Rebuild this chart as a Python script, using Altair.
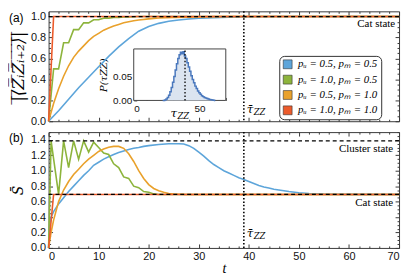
import altair as alt
import pandas as pd

SERIES = ["pᵤ = 0.5, pₘ = 0.5", "pᵤ = 1.0, pₘ = 0.5",
          "pᵤ = 0.5, pₘ = 1.0", "pᵤ = 1.0, pₘ = 1.0"]
COLORS = ["#5DA5DA", "#8DB43C", "#E9A12B", "#EC5B2B"]

# ---- panel (a): |<Z_i Z_{i+2}>| vs t
a_blue_t = [0, 2, 4, 6, 8, 10, 12, 14, 16, 18, 20, 22, 24, 26, 28, 30, 33, 36, 40, 45, 70]
a_blue_v = [0, 0.10, 0.21, 0.32, 0.42, 0.52, 0.62, 0.71, 0.79, 0.86, 0.905, 0.935, 0.955,
            0.968, 0.977, 0.984, 0.99, 0.995, 0.998, 1.0, 1.0]
a_green_t = [0, 1, 2, 3, 4, 5, 6, 7, 8, 9, 10, 11, 12, 13, 14, 15, 16, 17, 18, 70]
a_green_v = [0, 0.5, 0.5, 0.75, 0.75, 0.875, 0.875, 0.94, 0.94, 0.97, 0.97, 0.985, 0.985,
             0.992, 0.992, 0.996, 0.996, 0.998, 1.0, 1.0]
a_orange_t = [0, 1, 2, 3, 4, 5, 6, 7, 8, 9, 10, 11, 12, 13, 14, 15, 16, 17, 18, 20, 22, 25, 30, 35, 70]
a_orange_v = [0, 0.17, 0.31, 0.43, 0.53, 0.61, 0.67, 0.72, 0.77, 0.81, 0.84, 0.87, 0.89, 0.91,
              0.925, 0.94, 0.95, 0.96, 0.968, 0.978, 0.986, 0.992, 0.997, 1.0, 1.0]
a_red_t = [0, 1, 70]
a_red_v = [0, 1.0, 1.0]

# ---- panel (b): entropy S vs t
b_blue_t = [0, 0.2, 0.5, 1, 2, 3, 4, 5, 6, 7, 8, 9, 10, 11, 12, 13, 14, 15, 16, 17, 18, 19, 20,
            22, 24, 26, 27, 28, 29, 30, 31, 32, 33, 34, 35, 36, 37, 38, 39, 40, 41, 42, 43, 44,
            45, 46, 47, 48, 50, 52, 55, 60, 70]
b_blue_v = [0, 0.30, 0.40, 0.47, 0.57, 0.65, 0.73, 0.80, 0.87, 0.94, 1.00, 1.07, 1.11, 1.15,
            1.18, 1.21, 1.235, 1.255, 1.275, 1.29, 1.30, 1.315, 1.325, 1.34, 1.35, 1.35, 1.345,
            1.325, 1.29, 1.24, 1.19, 1.13, 1.08, 1.04, 1.00, 0.97, 0.94, 0.91, 0.885, 0.86,
            0.835, 0.81, 0.79, 0.775, 0.76, 0.75, 0.74, 0.73, 0.715, 0.705, 0.697, 0.694, 0.693]
b_green_t = [0, 0.5, 2, 3, 4, 5, 6, 7, 8, 9, 10, 11, 12, 13, 14, 15, 16, 17, 18, 19, 20, 21, 22, 70]
b_green_v = [0, 1.386, 0.693, 1.386, 1.04, 1.386, 1.15, 1.386, 1.24, 1.37, 1.30, 1.23, 1.21,
             1.09, 1.04, 0.92, 0.90, 0.80, 0.78, 0.73, 0.72, 0.70, 0.693, 0.693]
b_orange_t = [0, 0.5, 1, 2, 3, 4, 5, 6, 7, 8, 9, 10, 11, 12, 13, 14, 15, 16, 17, 18, 19, 20,
              21, 22, 23, 24, 25, 27, 70]
b_orange_v = [0, 0.20, 0.36, 0.60, 0.75, 0.86, 0.95, 1.02, 1.09, 1.15, 1.20, 1.25, 1.28, 1.305,
              1.315, 1.315, 1.29, 1.22, 1.12, 1.00, 0.90, 0.82, 0.77, 0.74, 0.72, 0.705, 0.698,
              0.694, 0.693]
b_red_t = [0, 1, 70]
b_red_v = [0, 0.693, 0.693]

CAT_A = [1.0]
CLUSTER_B = [1.386]
CAT_B = [0.693]
TAU_MEAN = [39]

# ---- inset histogram P(tau_ZZ)
h_tau = list(range(22, 63))
h_p = [0, 0, 0.001, 0.003, 0.006, 0.011, 0.018, 0.027, 0.038, 0.050, 0.064, 0.077, 0.088,
       0.096, 0.101, 0.098, 0.102, 0.093, 0.088, 0.079, 0.070, 0.061, 0.052, 0.044, 0.037,
       0.030, 0.025, 0.020, 0.016, 0.013, 0.010, 0.008, 0.006, 0.005, 0.004, 0.003, 0.002,
       0.0015, 0.001, 0.0005, 0]

W, HA, HB = 354, 111, 117
SERIF = "Liberation Serif"
SANS = "Liberation Sans"
TICK_C = "#3a3a3a"
IN_L, IN_R, IN_TOPPX, IN_BOT = 86, 179, 38, 90


def long(ts, vs, name):
    return pd.DataFrame({"t": ts, "v": vs, "s": name})


df_a = pd.concat([long(a_blue_t, a_blue_v, SERIES[0]), long(a_green_t, a_green_v, SERIES[1]),
                  long(a_orange_t, a_orange_v, SERIES[2]), long(a_red_t, a_red_v, SERIES[3])])
df_b = pd.concat([long(b_blue_t, b_blue_v, SERIES[0]), long(b_green_t, b_green_v, SERIES[1]),
                  long(b_orange_t, b_orange_v, SERIES[2]), long(b_red_t, b_red_v, SERIES[3])])
df_h = pd.DataFrame({"tau": h_tau, "p": h_p})

color_scale = alt.Scale(domain=SERIES, range=COLORS)
XT = list(range(0, 71, 10))
XT_MINOR = [v for v in range(0, 71, 2) if v % 10]


def x_main(labels, title=None):
    ax = dict(values=XT, labels=labels, domain=False, grid=False, tickSize=4, offset=-4,
              labelPadding=3, title=title)
    if title:
        ax.update(titleFont=SERIF, titleFontStyle="italic", titleFontWeight="normal",
                  titleFontSize=14, titlePadding=0)
    return alt.X("t:Q", scale=alt.Scale(domain=[0, 70], nice=False, zero=False),
                 axis=alt.Axis(**ax))


def y_main(domain, values, title, tsize, tpad=5):
    return alt.Y("v:Q", scale=alt.Scale(domain=domain, nice=False, zero=False),
                 axis=alt.Axis(values=values, format=".1f", domain=False, grid=False,
                               tickSize=4, offset=-4, labelPadding=3, title=title,
                               titleFont="DejaVu Serif", titleFontStyle="italic",
                               titleFontWeight="normal", titleFontSize=tsize,
                               titlePadding=tpad))


def tick_layer(ydomain, xvals, yvals, xorient, yorient, size):
    fdf = pd.DataFrame({"fx": [0], "fy": [ydomain[0]]})
    return alt.Chart(fdf).mark_point(opacity=0).encode(
        x=alt.X("fx:Q", scale=alt.Scale(domain=[0, 70], nice=False, zero=False),
                axis=alt.Axis(orient=xorient, values=xvals, labels=False, domain=False,
                              grid=False, tickSize=size, offset=-size, title=None)),
        y=alt.Y("fy:Q", scale=alt.Scale(domain=ydomain, nice=False, zero=False),
                axis=alt.Axis(orient=yorient, values=yvals, labels=False, domain=False,
                              grid=False, tickSize=size, offset=-size, title=None)),
    )


def text_layer(label, x, y, align="right", size=11, font=SERIF, style="normal", baseline="middle"):
    return alt.Chart(pd.DataFrame({"l": [label]})).mark_text(
        align=align, baseline=baseline, font=font, fontSize=size, fontStyle=style, color="black"
    ).encode(text="l:N", x=alt.value(x), y=alt.value(y))


def tau_label(xenc, y):
    d = pd.DataFrame({"t": TAU_MEAN, "l": ["τ̄"], "z": ["ZZ"]})
    t1 = alt.Chart(d).mark_text(align="left", baseline="middle", font="DejaVu Serif",
                                fontSize=12, fontStyle="italic", dx=3, color="black").encode(
        x=xenc, y=alt.value(y), text="l:N")
    t2 = alt.Chart(d).mark_text(align="left", baseline="middle", font="DejaVu Serif",
                                fontSize=8.5, fontStyle="italic", dx=10, dy=3, color="black").encode(
        x=xenc, y=alt.value(y), text="z:N")
    return t1 + t2


def series_lines(df, xenc, yenc):
    return [alt.Chart(df[df["s"] == name]).mark_line(strokeWidth=1.6, color=col).encode(
        x=xenc, y=yenc) for name, col in zip(SERIES, COLORS)]


# ---------------- panel (a)
TITLE_A = "".join(ch + "\u0305" for ch in "|⟨ZᵢZᵢ₊₂⟩|")
YA = [0, 0.2, 0.4, 0.6, 0.8, 1.0]
YA_MINOR = [round(v * 0.05, 2) for v in range(0, 21) if v % 4]
xa = x_main(False)
ya = y_main([0, 1.05], YA, TITLE_A, 17, 3)

legend_a = alt.Chart(pd.DataFrame({"s": SERIES})).mark_square(opacity=0).encode(
    color=alt.Color("s:N", scale=color_scale, legend=alt.Legend(
        title=None, orient="none", legendX=233, legendY=45, symbolType="square",
        symbolSize=80, symbolOpacity=1, symbolStrokeColor="#333", symbolStrokeWidth=0.6,
        labelFont=SERIF, labelFontStyle="italic", labelFontSize=11, labelColor="black",
        strokeColor="#333", cornerRadius=5, padding=3, rowPadding=2.5, fillColor="white",
        labelOffset=5)))
hl_a = alt.Chart(pd.DataFrame({"v": CAT_A})).mark_rule(
    color="black", strokeDash=[4, 3], strokeWidth=1.2).encode(y=ya)
vl_a = alt.Chart(pd.DataFrame({"t": TAU_MEAN})).mark_rule(
    color="black", strokeDash=[1.5, 2], strokeWidth=1.6).encode(x=xa)
main_a = alt.layer(
    *series_lines(df_a, xa, ya), hl_a, vl_a, legend_a,
    text_layer("Cat state", W - 4, 13),
    tau_label(xa, HA - 12),
    text_layer("(a)", -40, 2, align="left", size=12, font=SANS, baseline="top"),
)

# inset
IN_TOP = 0.108
xi = alt.X("tau:Q", scale=alt.Scale(domain=[0, 70], range=[IN_L, IN_R], nice=False, zero=False),
           axis=alt.Axis(orient="bottom", values=XT, domain=False, grid=False, tickSize=3,
                         offset=-(HA - IN_BOT + 3), labelPadding=3, labelFontSize=10, title=None,
                         labelExpr="datum.value == 0 || datum.value == 50 ? datum.label : ''"))
yi = alt.Y("p:Q", scale=alt.Scale(domain=[0, IN_TOP], range=[IN_BOT, IN_TOPPX], nice=False,
                                  zero=False),
           axis=alt.Axis(orient="left", values=[0, 0.025, 0.05, 0.075, 0.1], format=".2f",
                         domain=False, grid=False, tickSize=3, offset=-(IN_L + 3), labelPadding=2,
                         labelFontSize=10, title="P(τZZ)", titleFont="DejaVu Serif",
                         titleFontStyle="italic", titleFontWeight="normal", titleFontSize=10,
                         titlePadding=4,
                         labelExpr="datum.value == 0 || datum.value == 0.05 ? datum.label : ''"))
box_i = alt.Chart(pd.DataFrame({"a": [0]})).mark_rect(
    fill="white", stroke="#444", strokeWidth=1).encode(
    x=alt.datum(0), x2=alt.datum(70), y=alt.datum(0), y2=alt.datum(IN_TOP))
area_i = alt.Chart(df_h).mark_area(interpolate="step", color="#dbe4f0").encode(x=xi, y=yi)
line_i = alt.Chart(df_h).mark_line(interpolate="step", color="#4a78bd", strokeWidth=1.5).encode(
    x=xi, y=yi)
vl_i = alt.Chart(pd.DataFrame({"tau": TAU_MEAN})).mark_rule(
    color="black", strokeDash=[1.5, 2], strokeWidth=1.3).encode(
    x="tau:Q", y=alt.datum(0), y2=alt.datum(IN_TOP))
ti_1 = alt.Chart(pd.DataFrame({"tau": [28], "l": ["τ"]})).mark_text(
    align="left", baseline="middle", font="DejaVu Serif", fontSize=12, fontStyle="italic",
    color="black").encode(x="tau:Q", y=alt.value(IN_BOT + 13), text="l:N")
ti_2 = alt.Chart(pd.DataFrame({"tau": [28], "l": ["ZZ"]})).mark_text(
    align="left", baseline="middle", font="DejaVu Serif", fontSize=8.5, fontStyle="italic",
    dx=7, dy=3, color="black").encode(x="tau:Q", y=alt.value(IN_BOT + 13), text="l:N")
inset = alt.layer(box_i, area_i, line_i, vl_i, ti_1, ti_2)

top = alt.layer(
    main_a, inset,
    tick_layer([0, 1.05], XT, YA, "top", "right", 4),
    tick_layer([0, 1.05], XT_MINOR, YA_MINOR, "bottom", "left", 2),
    tick_layer([0, 1.05], XT_MINOR, YA_MINOR, "top", "right", 2),
).resolve_scale(x="independent", y="independent").properties(width=W, height=HA)

# ---------------- panel (b)
YB = [0, 0.2, 0.4, 0.6, 0.8, 1.0, 1.2, 1.4]
YB_MINOR = [round(v * 0.05, 2) for v in range(0, 31) if v % 4]
xb = x_main(True, "t")
yb = y_main([0, 1.5], YB, "S̄", 14)
hl_b = alt.Chart(pd.DataFrame({"v": CLUSTER_B + CAT_B})).mark_rule(
    color="black", strokeDash=[4, 3], strokeWidth=1.2).encode(y=yb)
vl_b = alt.Chart(pd.DataFrame({"t": TAU_MEAN})).mark_rule(
    color="black", strokeDash=[1.5, 2], strokeWidth=1.6).encode(x=xb)
main_b = alt.layer(
    *series_lines(df_b, xb, yb), hl_b, vl_b,
    text_layer("Cluster state", W - 6, 17.5),
    text_layer("Cat state", W - 6, 72),
    tau_label(xb, 101.5),
    text_layer("(b)", -40, 1, align="left", size=12, font=SANS, baseline="top"),
)
bottom = alt.layer(
    main_b,
    tick_layer([0, 1.5], XT, YB, "top", "right", 4),
    tick_layer([0, 1.5], XT_MINOR, YB_MINOR, "bottom", "left", 2),
    tick_layer([0, 1.5], XT_MINOR, YB_MINOR, "top", "right", 2),
).resolve_scale(x="independent", y="independent").properties(width=W, height=HB)

chart = alt.vconcat(top, bottom, spacing=3).resolve_scale(
    x="independent", y="independent").configure_view(
    stroke="#3a3a3a", strokeWidth=1).configure_axis(
    labelFont=SANS, labelFontSize=11, labelColor="#111", tickColor=TICK_C,
    tickWidth=1).properties(padding=0)

chart.save("out.html", embed_options={"renderer": "svg", "actions": False})
